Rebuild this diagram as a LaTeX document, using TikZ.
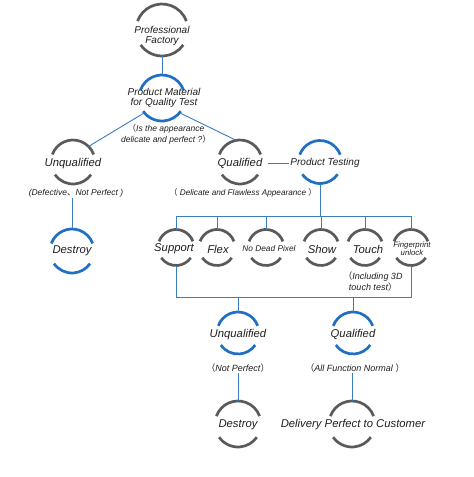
\documentclass[tikz,border=0pt]{standalone}
\usepackage{fontspec}
\setmainfont{Liberation Sans}
\newfontfamily\cjk{Noto Sans CJK SC}
\usetikzlibrary{calc}
\definecolor{arcgray}{HTML}{5A5A5A}
\definecolor{arcblue}{HTML}{1F6FC2}
\definecolor{linkblue}{HTML}{3A7DC0}
\definecolor{ink}{HTML}{1E1E1E}
\newcommand\fw[1]{{\cjk #1}}
% name, x, y, r, top colour, bottom colour
\newcommand\ring[6]{%
  \node[ringshape,minimum size={2*#4pt}] (#1) at (#2,#3) {};
  \draw[ringarc,draw=#5] (#1.160) arc[start angle=160,end angle=20,radius=#4pt];
  \draw[ringarc,draw=#6] (#1.-145) arc[start angle=-145,end angle=-35,radius=#4pt];
}
\begin{document}
\begin{tikzpicture}[x=1pt,y=-1pt,
  ringshape/.style={circle,inner sep=0pt,outer sep=0pt},
  ringarc/.style={line width=2.7pt},
  link/.style={draw=linkblue,line width=0.9pt},
  txt/.style={font=\itshape\fontsize{11.3}{13}\selectfont,text=ink,inner sep=1pt,align=center},
  txtm/.style={font=\itshape\fontsize{10}{10.8}\selectfont,text=ink,inner sep=1pt,align=center},
  note/.style={font=\itshape\fontsize{8.5}{10}\selectfont,text=ink,inner sep=1pt,align=center},
  notem/.style={font=\itshape\fontsize{9}{11}\selectfont,text=ink,inner sep=1pt,align=center}]
\useasboundingbox (0,0) rectangle (474,477);

% rings
\ring{pf}{162}{30}{26}{arcgray}{arcgray}
\ring{pmqt}{162}{98}{23}{arcblue}{arcblue}
\ring{unqa}{73}{162}{22}{arcgray}{arcgray}
\ring{desa}{72}{251}{22}{arcblue}{arcblue}
\ring{quala}{240}{162}{22}{arcgray}{arcgray}
\ring{pt}{320}{162}{21.5}{arcblue}{arcblue}
\ring{sup}{176}{247.5}{18}{arcgray}{arcgray}
\ring{flex}{217}{247.5}{18}{arcgray}{arcgray}
\ring{ndp}{266}{247.5}{18}{arcgray}{arcgray}
\ring{show}{321}{247.5}{18}{arcgray}{arcgray}
\ring{touch}{365}{247.5}{18}{arcgray}{arcgray}
\ring{fp}{411}{247.5}{18}{arcgray}{arcgray}
\ring{unqb}{238}{333}{21}{arcblue}{arcblue}
\ring{qualb}{353}{333}{21}{arcblue}{arcblue}
\ring{desb}{238}{424}{23}{arcgray}{arcgray}
\ring{del}{352}{424}{23}{arcgray}{arcgray}

% texts
\node[txtm] (pft) at (162,36) {Professional\\Factory};
\node[txtm] (pmqtt) at (164,98) {Product Material\\for Quality Test};
\node[txt] (unqat) at (73,164) {Unqualified};
\node[txt] (desat) at (72,251) {Destroy};
\node[txt] (qualat) at (240,163) {Qualified};
\node[txtm] (ptt) at (325,163) {Product Testing};
\node[txt] (supt) at (174,249) {Support};
\node[txt] (flext) at (218,249) {Flex};
\node[font=\itshape\fontsize{8.3}{9}\selectfont,text=ink,inner sep=1pt] (ndpt) at (269,249) {No Dead Pixel};
\node[txt] (showt) at (322,249) {Show};
\node[txt] (toucht) at (368,249) {Touch};
\node[font=\itshape\fontsize{7.8}{7.2}\selectfont,text=ink,inner sep=1pt,align=center] (fpt) at (412,249) {Fingerprint\\unlock};
\node[txt] (unqbt) at (238,335) {Unqualified};
\node[txt] (qualbt) at (353,334) {Qualified};
\node[txt] (desbt) at (238,425) {Destroy};
\node[txt] (delt) at (353,425) {Delivery Perfect to Customer};

% notes
\node[note,font=\itshape\fontsize{8.5}{10.5}\selectfont] (lpm) at (166,134) {\fw{（}Is the appearance\\delicate and perfect ?\fw{）}};
\node[note] (lunqa) at (76,193) {(Defective\fw{、}Not Perfect )};
\node[note,font=\itshape\fontsize{8.2}{10}\selectfont] (lquala) at (243,193) {\fw{（} Delicate and Flawless Appearance \fw{）}};
\node[notem] (ltouch) at (373,282) {\fw{（}Including 3D\\touch test\fw{）}};
\node[notem] (lunqb) at (238,368) {\fw{（}Not Perfect\fw{）}};
\node[notem] (lqualb) at (355,368) {\fw{（}All Function Normal \fw{）}};

% connectors
\draw[link] (pf.south) -- (pmqt.north);
\draw[link] (pmqt.-140) -- (unqa.45);
\draw[link] (pmqt.-40) -- (quala.100);
\draw[link] (desa.north |- lunqa.south) -- (desa.north);
\draw[link,shorten <=4pt] (qualat.east) -- (ptt.west);
\coordinate (busa) at (320,216);
\coordinate (busb) at (320,297);
\draw[link] (pt.south) -- (busa);
\draw[link] (sup.north) -- (sup.north |- busa) -- (fp.north |- busa) -- (fp.north);
\foreach \n in {flex,ndp,show,touch}
  \draw[link] (\n.north) -- (\n.north |- busa);
\draw[link] (sup.south) -- (sup.south |- busb) -- (fp.south |- busb) -- (fp.south);
\draw[link] (unqb.north |- busb) -- (unqb.north);
\draw[link] (qualb.north |- busb) -- (qualb.north);
\draw[link] (desb.north |- lunqb.south) -- (desb.north);
\draw[link] (del.north |- lqualb.south) -- (del.north);
\end{tikzpicture}
\end{document}
